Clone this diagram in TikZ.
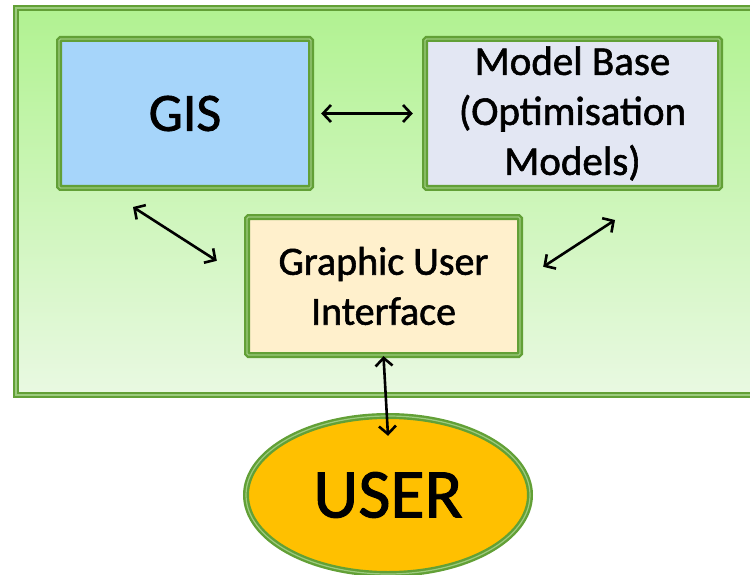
\documentclass[tikz,border=0pt]{standalone}
\usepackage{fontspec}
\setmainfont[FakeBold=1.4]{Carlito}
\usetikzlibrary{arrows.meta,shapes.geometric}
\definecolor{gborder}{HTML}{62A036}
\definecolor{ginner}{HTML}{9CCB7E}
\definecolor{outtop}{HTML}{B1F291}
\definecolor{outbot}{HTML}{E9F9E2}
\definecolor{gisblue}{HTML}{A6D5FA}
\definecolor{modelgrey}{HTML}{E3E7F3}
\definecolor{guicream}{HTML}{FFF0CC}
\definecolor{useryellow}{HTML}{FFC000}
\tikzset{
  box/.style={draw=gborder, line width=2.4pt, double=ginner, double distance=1.2pt,
    rectangle, rounded corners=1.5pt, align=center, inner sep=0pt},
  framebox/.style={draw=gborder, line width=2.4pt, double=ginner, double distance=1.2pt},
  link/.style={line width=2.6pt, black, {Straight Barb[length=8pt,width=17pt]}-{Straight Barb[length=8pt,width=17pt]}}
}
\begin{document}
\begin{tikzpicture}[x=1pt,y=-1pt]
\useasboundingbox (0,0) rectangle (750,575);
\clip (0,0) rectangle (750,575);
\fill[white] (0,0) rectangle (750,575);
\shade[top color=outtop, bottom color=outbot] (16,8) rectangle (770,395);
\draw[framebox] (16,8) rectangle (770,395);

\node[box, fill=gisblue, minimum width=252pt, minimum height=149pt,
  font=\fontsize{54}{60}\selectfont] (gis) at (185,113.5) {GIS};
\node[box, fill=modelgrey, minimum width=295pt, minimum height=149pt,
  font=\fontsize{41}{50}\selectfont] (mb) at (572.5,113.5)
  {Model Base\\(Optimisation\\Models)};
\node[box, fill=guicream, minimum width=273pt, minimum height=138pt,
  font=\fontsize{40}{50}\selectfont] (gui) at (383.5,286)
  {Graphic User\\Interface};
\node[ellipse, draw=gborder, line width=2.4pt, double=ginner, double distance=1.2pt,
  fill=useryellow, minimum width=284pt, minimum height=158pt, inner sep=0pt,
  font=\fontsize{70}{70}\selectfont] (user) at (388,495) {USER};

\coordinate (gl) at (133,207);
\coordinate (ml) at (615,220);
\draw[link] ([xshift=9pt]gis.east) -- ([xshift=-11pt]mb.west);
\draw[link] (gl) -- ([shift={(-29pt,-45pt)}]gui.north west);
\draw[link] (ml) -- ([shift={(22pt,-51pt)}]gui.north east);
\draw[link] (gui.south) -- ([yshift=-21pt]user.north);
\end{tikzpicture}
\end{document}
